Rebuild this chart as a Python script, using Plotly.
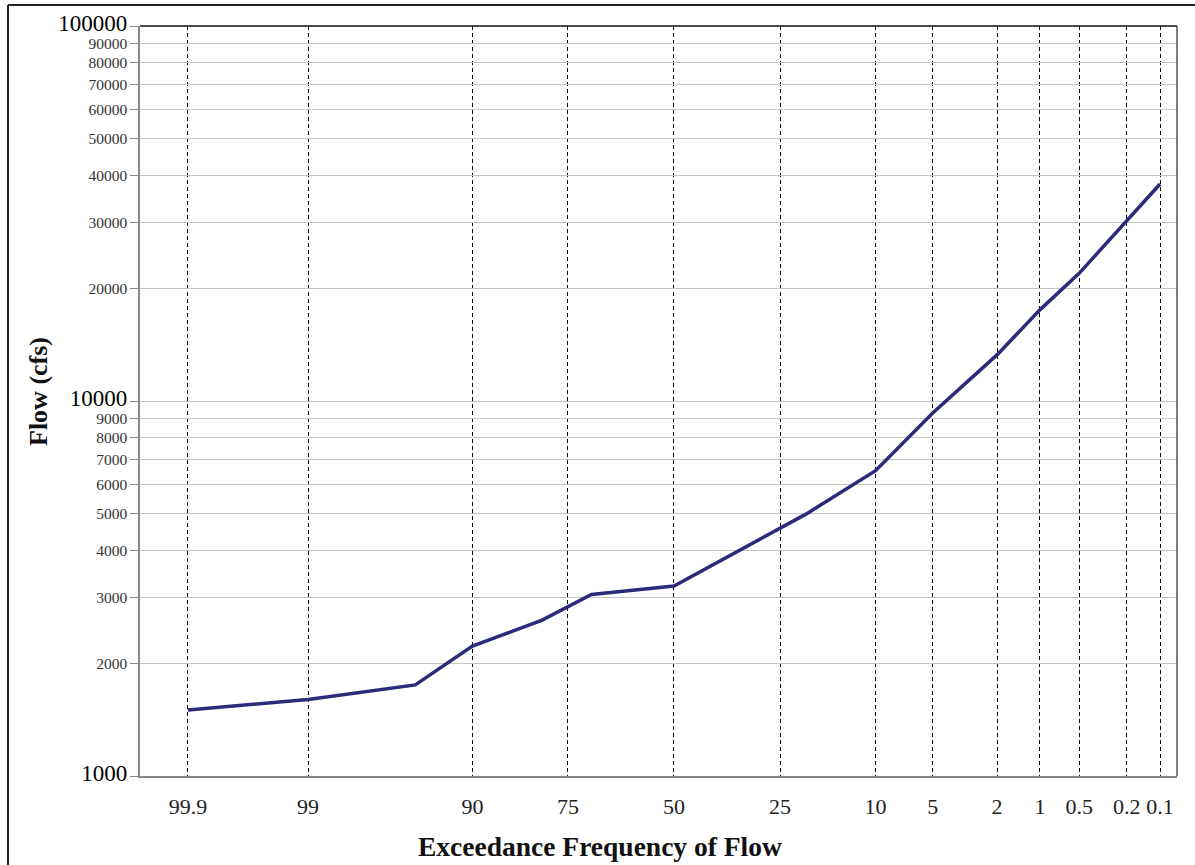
from statistics import NormalDist
import plotly.graph_objects as go

# ---- data ----
exceedance_pct = [99.9, 99, 95, 90, 80, 70, 50, 20, 10, 5, 2, 1, 0.5, 0.2, 0.1]
flow_cfs = [1500, 1600, 1750, 2220, 2600, 3050, 3210, 5000, 6520, 9290, 13270, 17500, 21900, 30200, 37900]

x_tick_pct = [99.9, 99, 90, 75, 50, 25, 10, 5, 2, 1, 0.5, 0.2, 0.1]
x_tick_labels = ["99.9", "99", "90", "75", "50", "25", "10", "5", "2", "1", "0.5", "0.2", "0.1"]

y_tick_vals = [1000, 2000, 3000, 4000, 5000, 6000, 7000, 8000, 9000,
               10000, 20000, 30000, 40000, 50000, 60000, 70000, 80000, 90000, 100000]
y_major = [1000, 10000, 100000]

# normal-probability scale transform
nd = NormalDist()
def prob_pos(p):
    return nd.inv_cdf(1 - p / 100.0)

xs = [prob_pos(p) for p in exceedance_pct]
x_ticks = [prob_pos(p) for p in x_tick_pct]

y_text = [f"<span style='font-size:23px;color:#000'>{v}</span>" if v in y_major else str(v)
          for v in y_tick_vals]

fig = go.Figure()
fig.add_trace(go.Scatter(
    x=xs, y=flow_cfs, mode="lines",
    line=dict(color="#2b2b7b", width=3.5),
    showlegend=False, hoverinfo="x+y"))

W, H = 1195, 865
L, R, T, B = 140, 18, 26, 89
pw, ph = W - L - R, H - T - B

def px(xpix):
    return (xpix - L) / pw

def py(ypix):
    return (H - B - ypix) / ph

fig.update_layout(
    width=W, height=H,
    margin=dict(l=L, r=R, t=T, b=B),
    paper_bgcolor="white", plot_bgcolor="white",
    font=dict(family="Liberation Serif, Times New Roman, serif", color="#222"),
    xaxis=dict(
        range=[-3.395, 3.198],
        tickmode="array", tickvals=x_ticks, ticktext=x_tick_labels,
        tickangle=0,
        tickfont=dict(size=22, color="#222"),
        ticks="", ticklabelstandoff=10,
        showgrid=True, gridcolor="#000", gridwidth=1, griddash="4px,3px",
        showline=True, linecolor="#888", linewidth=1.5,
        zeroline=False, fixedrange=True,
    ),
    yaxis=dict(
        type="log", range=[3, 5],
        tickmode="array", tickvals=y_tick_vals, ticktext=y_text,
        tickfont=dict(size=15.5, color="#333"),
        ticks="outside", ticklen=8, tickcolor="#888", tickwidth=1,
        showgrid=True, gridcolor="#c6c6c6", gridwidth=1,
        showline=True, linecolor="#888", linewidth=1.5,
        zeroline=False, fixedrange=True,
    ),
    annotations=[
        dict(text="<b>Flow (cfs)</b>", xref="paper", yref="paper",
             x=px(38), y=py(392), textangle=-90,
             showarrow=False, font=dict(size=26, color="#111"),
             xanchor="center", yanchor="middle"),
        dict(text="<b>Exceedance Frequency of Flow</b>", xref="paper", yref="paper",
             x=px(600), y=py(846),
             showarrow=False, font=dict(size=27.5, color="#111"),
             xanchor="center", yanchor="middle"),
    ],
    shapes=[
        # plot frame: top and right
        dict(type="line", xref="paper", yref="paper", x0=0, x1=1, y0=1, y1=1,
             line=dict(color="#111", width=1.5)),
        dict(type="line", xref="paper", yref="paper", x0=1, x1=1, y0=0, y1=1,
             line=dict(color="#555", width=1.5)),
        # outer picture border: left and top
        dict(type="line", xref="paper", yref="paper",
             x0=px(8), x1=px(8), y0=py(H + 5), y1=py(5),
             line=dict(color="#222", width=2)),
        dict(type="line", xref="paper", yref="paper",
             x0=px(8), x1=px(W + 5), y0=py(5), y1=py(5),
             line=dict(color="#222", width=2)),
    ],
)

fig.write_html("out.html", config={"displayModeBar": False},
               post_script="document.body.style.margin='0px';")
